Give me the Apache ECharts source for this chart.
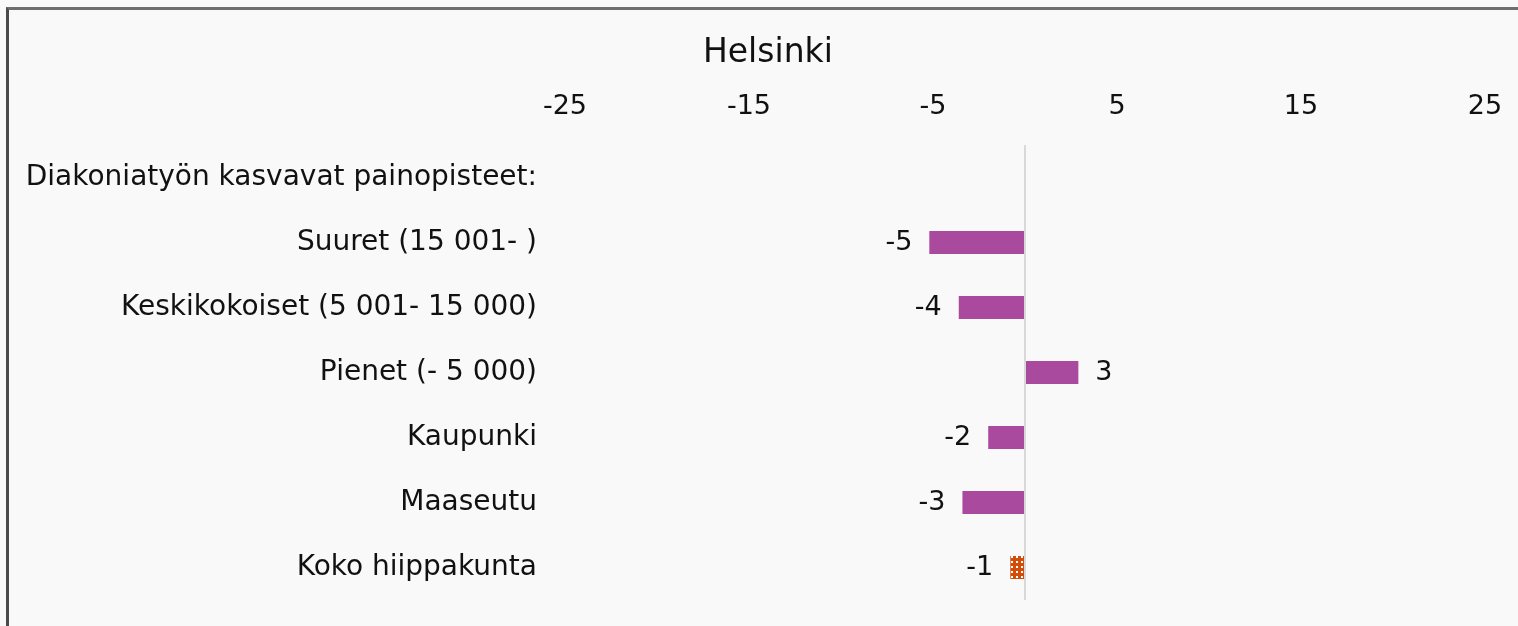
<!DOCTYPE html>
<html>
<head>
<meta charset="utf-8">
<script src="https://cdn.jsdelivr.net/npm/echarts@6/dist/echarts.min.js"></script>
<style>
  html, body { margin: 0; padding: 0; background: #f9f9f9; overflow: hidden; }
  #frame { position: absolute; left: 6px; top: 7px; width: 1530px; height: 640px; border: 3px solid #4a4a4a; border-top-color: #6e6e6e; box-sizing: border-box; }
  #chart { position: absolute; left: 0; top: 0; width: 1518px; height: 626px; }
</style>
</head>
<body>
<div id="frame"></div>
<div id="chart"></div>
<script>
const categories = [
  "Diakoniatyön kasvavat painopisteet:",
  "Suuret (15 001- )",
  "Keskikokoiset (5 001- 15 000)",
  "Pienet (- 5 000)",
  "Kaupunki",
  "Maaseutu",
  "Koko hiippakunta",
];
const values = [null, -5.2, -3.6, 2.9, -2.0, -3.4, -0.8];
const xTicks = [-25, -15, -5, 5, 15, 25];

const purple = "#aa4a9e";
const font = "DejaVu Sans";

// orange dotted fill for the whole-diocese bar
function dotPattern() {
  const c = document.createElement("canvas");
  c.width = 5;
  c.height = 5;
  const ctx = c.getContext("2d");
  ctx.fillStyle = "#d24d0a";
  ctx.fillRect(0, 0, 5, 5);
  ctx.fillStyle = "#ffffff";
  ctx.fillRect(1, 1, 2, 2);
  return c;
}

const barData = values.map((v, i) => {
  if (v === null) return "-";
  if (i === values.length - 1) {
    return { value: v, itemStyle: { color: { image: dotPattern(), repeat: "repeat" } } };
  }
  return v;
});

const dom = echarts.init(document.getElementById("chart"));
dom.setOption({
  backgroundColor: "transparent",
  animation: false,
  title: {
    text: "Helsinki",
    left: 698,
    top: 32,
    textStyle: { fontFamily: font, fontSize: 33, fontWeight: "normal", color: "#111" },
  },
  grid: { left: 565, right: 33, top: 145, bottom: 26 },
  xAxis: {
    type: "value",
    position: "top",
    min: -25,
    max: 25,
    interval: 10,
    axisLine: { show: false },
    axisTick: { show: false },
    splitLine: { show: false },
    axisLabel: {
      margin: 25,
      fontFamily: font,
      fontSize: 27,
      color: "#111",
      customValues: xTicks,
    },
  },
  yAxis: {
    type: "category",
    data: categories,
    inverse: true,
    axisLine: { show: false },
    axisTick: { show: false },
    axisLabel: { margin: 28, fontFamily: font, fontSize: 28, color: "#111" },
  },
  series: [
    {
      type: "bar",
      data: barData,
      barWidth: 23,
      itemStyle: { color: purple },
      label: {
        show: true,
        position: "outside",
        distance: 17,
        fontFamily: font,
        fontSize: 27,
        color: "#111",
        formatter: (p) => Math.round(p.value),
      },
      markLine: {
        silent: true,
        symbol: "none",
        label: { show: false },
        lineStyle: { color: "#d9d9d9", type: "solid", width: 2 },
        data: [{ xAxis: 0 }],
      },
    },
  ],
});
</script>
</body>
</html>
